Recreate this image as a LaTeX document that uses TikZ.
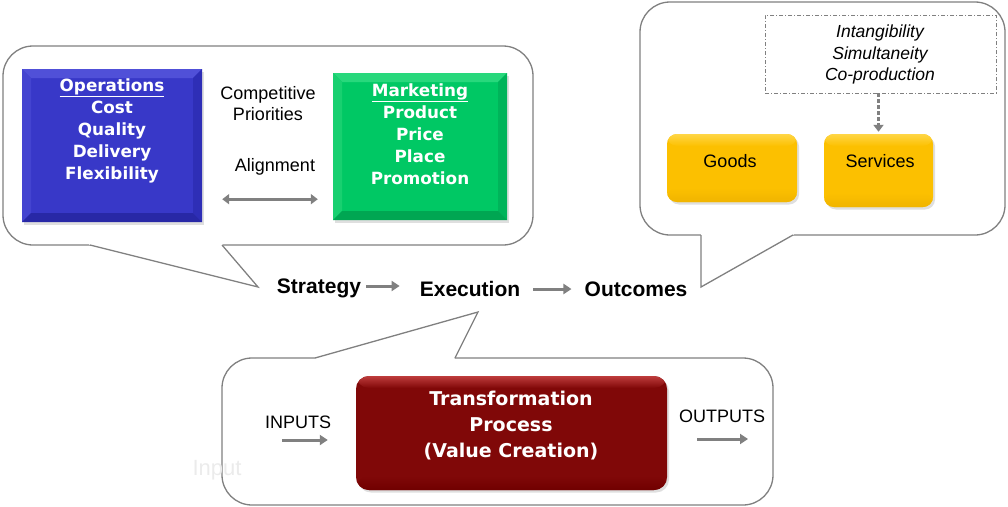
\documentclass[tikz,border=0pt]{standalone}
\usepackage{fontspec}
\setmainfont{Liberation Sans}
\newfontfamily\tah{DejaVu Sans}
\usetikzlibrary{arrows.meta,calc,shadows}
\definecolor{cgray}{RGB}{128,128,128}
\definecolor{opsblue}{RGB}{56,56,200}
\definecolor{opstop}{RGB}{80,80,216}
\definecolor{opsleft}{RGB}{68,68,208}
\definecolor{opsright}{RGB}{46,46,182}
\definecolor{opsbot}{RGB}{40,40,166}
\definecolor{mktgreen}{RGB}{0,200,100}
\definecolor{mkttop}{RGB}{40,216,124}
\definecolor{mktleft}{RGB}{24,208,112}
\definecolor{mktright}{RGB}{0,180,90}
\definecolor{mktbot}{RGB}{0,166,82}
\definecolor{goldtop}{RGB}{255,214,70}
\definecolor{goldmid}{RGB}{252,192,0}
\definecolor{goldbot}{RGB}{240,180,0}
\definecolor{redtop}{RGB}{190,60,60}
\definecolor{redmid}{RGB}{128,8,8}
\definecolor{redbot}{RGB}{112,0,0}
\begin{document}
\begin{tikzpicture}[x=1pt,y=-1pt,
  callout/.style={draw=cgray, line width=1.3pt, fill=white, rounded corners=30pt},
  ptr/.style={draw=cgray, line width=1.3pt, line join=miter},
  lbl/.style={inner sep=0pt, align=center, font=\fontsize{18}{21}\selectfont},
  ital/.style={inner sep=0pt, align=center, font=\fontsize{17.5}{21.5}\selectfont\itshape},
  big/.style={inner sep=0pt, font=\fontsize{21}{24}\selectfont\bfseries},
  boxtxt/.style={inner sep=0pt, align=center, text=white, font=\tah\bfseries\fontsize{16.8}{22}\selectfont},
  redtxt/.style={inner sep=0pt, align=center, text=white, font=\tah\bfseries\fontsize{19}{26}\selectfont},
  arr/.style={draw=cgray, line width=3pt, -{Triangle[length=8pt,width=10pt]}},
  darr/.style={draw=cgray, line width=2.8pt, {Triangle[length=7pt,width=10pt]}-{Triangle[length=7pt,width=10pt]}},
  dasharr/.style={draw=cgray, line width=2.8pt, dash pattern=on 4pt off 2pt, -{Triangle[length=7pt,width=10pt]}},
  bevel/.style n args={5}{fill=#1, path picture={
     \coordinate (NW) at (path picture bounding box.north west);
     \coordinate (NE) at (path picture bounding box.north east);
     \coordinate (SW) at (path picture bounding box.south west);
     \coordinate (SE) at (path picture bounding box.south east);
     \fill[#2] (NW) -- (NE) -- ($(NE)+(-9pt,-9pt)$) -- ($(NW)+(9pt,-9pt)$) -- cycle;
     \fill[#3] (NW) -- (SW) -- ($(SW)+(9pt,9pt)$) -- ($(NW)+(9pt,-9pt)$) -- cycle;
     \fill[#4] (NE) -- (SE) -- ($(SE)+(-9pt,9pt)$) -- ($(NE)+(-9pt,-9pt)$) -- cycle;
     \fill[#5] (SW) -- (SE) -- ($(SE)+(-9pt,9pt)$) -- ($(SW)+(9pt,9pt)$) -- cycle;
  }},
  shad/.style={drop shadow={opacity=0.25, shadow xshift=2pt, shadow yshift=-2.5pt}},
  rimbox/.style n args={3}{fill=#2, path picture={
     \coordinate (NW) at (path picture bounding box.north west);
     \coordinate (NE) at (path picture bounding box.north east);
     \coordinate (SW) at (path picture bounding box.south west);
     \coordinate (SE) at (path picture bounding box.south east);
     \shade[top color=#1, bottom color=#2] (NW) rectangle ($(NE)+(0,-12pt)$);
     \shade[top color=#2, bottom color=#3] ($(SW)+(0,14pt)$) rectangle (SE);
  }},
  goldbox/.style={rounded corners=10pt, rimbox={goldtop}{goldmid}{goldbot}, shad},
  redbox/.style={rounded corners=13pt, rimbox={redtop}{redmid}{redbot}, shad}
]
\useasboundingbox (0,0) rectangle (1008,506);

% ---- callouts
\draw[callout] (3,46) rectangle (533,245);
\fill[white] (88,243) -- (224,243) -- (222,245) -- (258,287) -- (90,245) -- cycle;
\draw[ptr] (222,245) -- (258,287) -- (90,245);

\draw[callout] (640,2) rectangle (1005,235);
\fill[white] (701,233) -- (795,233) -- (793,235) -- (701,287) -- cycle;
\draw[ptr] (701,235) -- (701,287) -- (793,235);

\draw[callout] (222,358) rectangle (773,505);
\fill[white] (315,358) -- (478,312) -- (455,358) -- (453,360) -- (317,360) -- cycle;
\draw[ptr] (315,358) -- (478,312) -- (455,358);

% ---- strategy callout content
\node[bevel={opsblue}{opstop}{opsleft}{opsright}{opsbot}, minimum width=180pt, minimum height=153pt, inner sep=0pt, shad] (ops) at (112,145.5) {};
\node[boxtxt] (opstxt) at (112,131) {\underline{Operations}\\Cost\\Quality\\Delivery\\Flexibility};

\node[bevel={mktgreen}{mkttop}{mktleft}{mktright}{mktbot}, minimum width=174pt, minimum height=147pt, inner sep=0pt, shad] (mkt) at (420,146.5) {};
\node[boxtxt] (mkttxt) at (420,134) {\underline{Marketing}\\Product\\Price\\Place\\Promotion};

\node[lbl] (comp) at (268,103.5) {Competitive\\Priorities};
\node[lbl] (align) at (275,167) {Alignment};
\draw[darr] ([shift={(20pt,23pt)}]ops.south east) -- ([shift={(-15pt,21pt)}]mkt.south west);

% ---- main chain
\node[big, anchor=base] (strat) at (319,293) {Strategy};
\node[big, anchor=base] (exec) at (470,296) {Execution};
\node[big, anchor=base] (outc) at (636,296) {Outcomes};
\draw[arr] ([shift={(5pt,7pt)}]strat.base east) -- ([shift={(-20pt,10pt)}]exec.base west);
\draw[arr] ([shift={(13pt,7pt)}]exec.base east) -- ([shift={(-13pt,7pt)}]outc.base west);

% ---- outcomes callout content
\node[draw=cgray, line width=0.9pt, dash pattern=on 4pt off 2pt on 1pt off 2pt, minimum width=231pt, minimum height=78pt, inner sep=0pt] (props) at (880.5,54) {};
\node[ital] (proptxt) at (880,54.5) {Intangibility\\Simultaneity\\Co-production};

\node[goldbox, minimum width=130pt, minimum height=68pt, inner sep=0pt] (goods) at (732,168) {};
\node[lbl] (goodstxt) at (730,161) {Goods};
\node[goldbox, minimum width=109pt, minimum height=73pt, inner sep=0pt] (serv) at (878.5,170.5) {};
\node[lbl] (servtxt) at (880,161) {Services};
\draw[dasharr] (props.south -| serv.north) -- ([yshift=2pt]serv.north);

% ---- execution callout content
\node[redbox, minimum width=311pt, minimum height=114pt, inner sep=0pt] (red) at (511.5,433) {};
\node[redtxt] (redtxt) at (511,426) {Transformation\\Process\\(Value Creation)};

\node[lbl] (inp) at (298,422) {INPUTS};
\node[lbl] (outp) at (722,416) {OUTPUTS};
\coordinate (inA) at (282,440);
\coordinate (outB) at (748,439);
\draw[arr] (inA) -- ([xshift=-28pt]inA -| red.west);
\draw[arr] ([xshift=30pt]outB -| red.east) -- (outB);

\node[inner sep=0pt, text=black!8, font=\fontsize{22}{22}\selectfont] (ghost) at (217,470) {Input};
\end{tikzpicture}
\end{document}
